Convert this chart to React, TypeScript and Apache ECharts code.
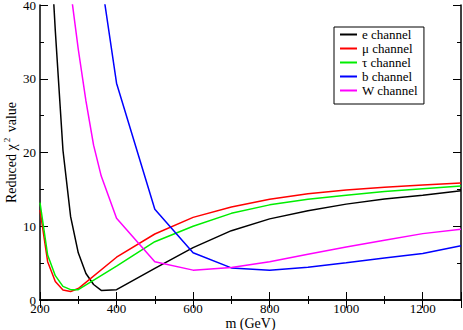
import React, { useEffect, useRef } from "react";
import * as echarts from "echarts";

const eM = [220, 240, 260, 280, 300, 320, 340, 360, 400, 500, 600, 700, 800, 900, 1000, 1100, 1200, 1300];
const eVal = [55, 36.5, 20.3, 11.3, 6.4, 3.6, 2.1, 1.3, 1.4, 4.3, 7.1, 9.4, 11.0, 12.1, 13.0, 13.7, 14.2, 14.8];

const muM = [200, 220, 240, 260, 280, 300, 400, 500, 600, 700, 800, 900, 1000, 1100, 1200, 1300];
const muVal = [12.2, 5.2, 2.5, 1.35, 1.15, 1.55, 5.8, 8.95, 11.2, 12.6, 13.65, 14.4, 14.9, 15.3, 15.6, 15.85];

const tauM = [200, 220, 240, 260, 280, 300, 400, 500, 600, 700, 800, 900, 1000, 1100, 1200, 1300];
const tauVal = [13.2, 6.1, 3.3, 1.85, 1.4, 1.4, 4.6, 7.9, 10.0, 11.75, 12.9, 13.65, 14.2, 14.7, 15.1, 15.45];

const bM = [350, 400, 500, 600, 700, 800, 900, 1000, 1100, 1200, 1300];
const bVal = [47, 29.4, 12.3, 6.4, 4.35, 4.05, 4.45, 5.05, 5.7, 6.3, 7.35];

const wM = [280, 300, 320, 340, 360, 400, 500, 600, 700, 800, 900, 1000, 1100, 1200, 1300];
const wVal = [42, 34, 27, 21, 16.8, 11.1, 5.2, 4.05, 4.4, 5.2, 6.2, 7.2, 8.1, 9.0, 9.6];

const names = ["e channel", "μ channel", "τ channel", "b channel", "W channel"];
const colors = ["#000000", "#ff0000", "#00ee00", "#0000ff", "#ff00ff"];
const xs = [eM, muM, tauM, bM, wM];
const ys = [eVal, muVal, tauVal, bVal, wVal];

const FONT = "Liberation Serif";

export default function App() {
  const ref = useRef<HTMLDivElement>(null);
  useEffect(() => {
    if (!ref.current) return;
    const chart = echarts.init(ref.current, undefined, { renderer: "svg" });
    const axisCommon = {
      axisLine: { show: true, lineStyle: { color: "#000", width: 1.5 } },
      axisTick: { show: true, inside: true, length: 8, lineStyle: { color: "#000", width: 1 } },
      minorTick: { show: true, splitNumber: 2, length: 4, lineStyle: { color: "#000", width: 1 } },
      splitLine: { show: false },
      minorSplitLine: { show: false },
    };
    chart.setOption({
      animation: false,
      grid: { left: 40, right: 2, top: 5, bottom: 30, containLabel: false, outerBoundsMode: "none" },
      legend: {
        orient: "vertical",
        left: 334,
        top: 27,
        padding: [1, 6, 7, 5],
        itemWidth: 17,
        itemHeight: 14,
        itemGap: 1,
        borderColor: "#000",
        borderWidth: 1,
        backgroundColor: "#fff",
        itemStyle: { opacity: 0 },
        textStyle: { fontFamily: FONT, fontSize: 13, color: "#000" },
        data: names,
      },
      xAxis: [
        {
          type: "value",
          min: 200,
          max: 1300,
          interval: 200,
          position: "bottom",
          ...axisCommon,
          axisLabel: {
            fontFamily: FONT,
            fontSize: 13,
            color: "#000",
            margin: 2,
            showMaxLabel: false,
            formatter: (v: number) => String(v),
          },
          name: "m (GeV)",
          nameLocation: "middle",
          nameGap: 16,
          nameMoveOverlap: false,
          nameTextStyle: { fontFamily: FONT, fontSize: 14, color: "#000" },
        },
        {
          type: "value",
          min: 200,
          max: 1300,
          interval: 200,
          position: "top",
          ...axisCommon,
          axisLabel: { show: false },
        },
      ],
      yAxis: [
        {
          type: "value",
          min: 0,
          max: 40,
          interval: 10,
          position: "left",
          ...axisCommon,
          axisLabel: { fontFamily: FONT, fontSize: 13, color: "#000", margin: 4, showMinLabel: true, showMaxLabel: true },
          name: "{a|Reduced χ}{s|2}{a| value}",
          nameLocation: "middle",
          nameRotate: 90,
          nameGap: 19,
          nameMoveOverlap: false,
          nameTextStyle: {
            fontFamily: FONT,
            fontSize: 14,
            color: "#000",
            rich: {
              a: { fontFamily: FONT, fontSize: 14, color: "#000" },
              s: { fontFamily: FONT, fontSize: 9, color: "#000", padding: [0, 2, 10, 2] },
            },
          },
        },
        {
          type: "value",
          min: 0,
          max: 40,
          interval: 10,
          position: "right",
          ...axisCommon,
          axisLabel: { show: false },
        },
      ],
      series: names.map((n, i) => ({
        name: n,
        type: "line",
        xAxisIndex: 0,
        yAxisIndex: 0,
        symbol: "none",
        clip: true,
        lineStyle: { color: colors[i], width: 1.5 },
        itemStyle: { color: colors[i] },
        data: xs[i].map((x, j) => [x, ys[i][j]]),
      })),
    });
    return () => chart.dispose();
  }, []);
  return <div ref={ref} style={{ width: 463, height: 330, position: "absolute", left: 0, top: 0 }} />;
}
